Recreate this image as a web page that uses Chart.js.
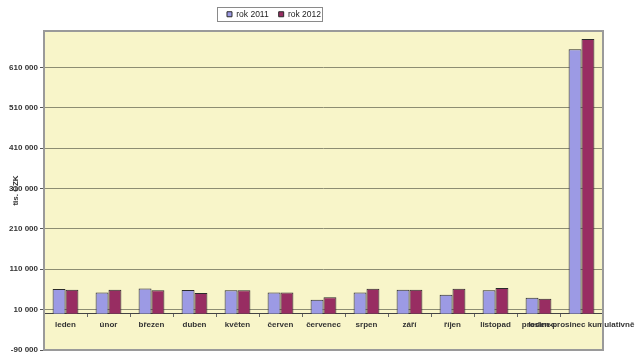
<!DOCTYPE html>
<html><head><meta charset="utf-8">
<script src="https://cdn.jsdelivr.net/npm/chart.js@4/dist/chart.umd.min.js"></script>
<style>html,body{margin:0;padding:0;background:#fff}#wrap{width:638px;height:353px;position:relative}</style>
</head><body><div id="wrap"><canvas id="c"></canvas></div>
<script>
const categories = ['leden','únor','březen','duben','květen','červen','červenec','srpen','září','říjen','listopad','prosinec','leden-prosinec kumulativně'];
const values2011 = [61000,52700,62600,58600,57700,52700,34700,52700,59400,47000,57700,39600,655000];
const values2012 = [59400,59400,57700,51200,57700,52700,40400,61900,59400,61900,63500,37100,680000];
const yTicks = [-90000,10000,110000,210000,310000,410000,510000,610000];
const seriesNames = ['rok 2011','rok 2012'];
const yTitle = 'tis. CZK';

const FONT = "'Liberation Sans', Arial, sans-serif";
function fmt(v){const s=String(Math.abs(v)).replace(/\B(?=(\d{3})+(?!\d))/g,' ');return (v<0?'-':'')+s;}

const plotFrame = {
  id:'plotFrame',
  beforeDraw(chart){
    const a=chart.chartArea, ctx=chart.ctx;
    ctx.save();ctx.fillStyle='#f8f5c9';ctx.fillRect(a.left,a.top,a.right-a.left,a.bottom-a.top);ctx.restore();
  },
  afterLayout(chart){
    const lg=chart.legend; if(!lg) return;
    lg.left=0; lg.right=548; lg.width=548;
    const h=lg.height; lg.top=0; lg.bottom=h;
  },
  afterDraw(chart){
    const a=chart.chartArea, ctx=chart.ctx;
    ctx.save();
    ctx.strokeStyle='#9a9a9a';ctx.lineWidth=2;
    ctx.strokeRect(a.left,a.top,a.right-a.left,a.bottom-a.top);
    ctx.strokeStyle='#8a8a8a';ctx.lineWidth=1;
    ctx.strokeRect(217.5,7.5,105,14);
    ctx.restore();
  }
};

new Chart(document.getElementById('c'),{
  type:'bar',
  data:{labels:categories,datasets:[
    {label:seriesNames[0],data:values2011,backgroundColor:'#9c9ae4',borderColor:'#2a2a2a',borderWidth:1,categoryPercentage:0.6,barPercentage:1},
    {label:seriesNames[1],data:values2012,backgroundColor:'#982d62',borderColor:'#2a2a2a',borderWidth:1,categoryPercentage:0.6,barPercentage:1}
  ]},
  options:{
    responsive:true,maintainAspectRatio:false,animation:false,
    layout:{padding:{left:0,right:35,top:2.5,bottom:3}},
    plugins:{
      legend:{display:true,position:'top',align:'center',
        labels:{boxWidth:5,boxHeight:5,padding:10,color:'#222',font:{family:FONT,size:8.5}}},
      tooltip:{enabled:false}
    },
    scales:{
      x:{position:{y:0},
        grid:{display:true,drawOnChartArea:false,offset:true,tickLength:3,color:'#666'},
        border:{display:true,color:'#444',width:1},
        ticks:{autoSkip:false,maxRotation:0,minRotation:0,padding:3,color:'#333',font:{family:FONT,size:8,weight:'bold'}},
        afterFit(s){s.paddingLeft=0;s.paddingRight=0;}
      },
      y:{min:-90000,max:700000,
        afterBuildTicks(s){s.ticks=yTicks.map(v=>({value:v}));},
        afterFit(s){s.width=44;s.paddingTop=0;s.paddingBottom=0;},
        grid:{color:'#8d8d72',lineWidth:1,tickLength:4,tickColor:'#555'},
        border:{display:false},
        ticks:{padding:2,color:'#333',font:{family:FONT,size:8,weight:'bold'},callback:v=>fmt(v)},
        title:{display:true,text:yTitle,color:'#333',padding:{top:11,bottom:0},font:{family:FONT,size:8,weight:'bold'}}
      }
    }
  },
  plugins:[plotFrame]
});
</script></body></html>
